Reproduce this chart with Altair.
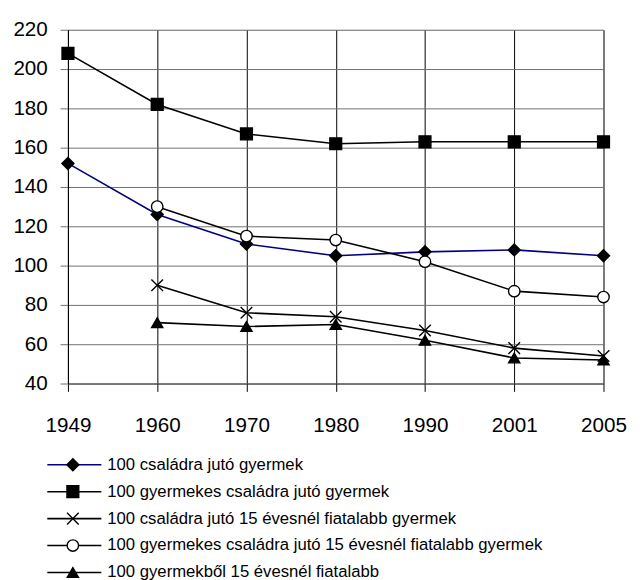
import altair as alt
import pandas as pd

years = ["1949", "1960", "1970", "1980", "1990", "2001", "2005"]
names = [
    "100 családra jutó gyermek",
    "100 gyermekes családra jutó gyermek",
    "100 családra jutó 15 évesnél fiatalabb gyermek",
    "100 gyermekes családra jutó 15 évesnél fiatalabb gyermek",
    "100 gyermekből 15 évesnél fiatalabb",
]
s1 = [152, 126, 111, 105, 107, 108, 105]
s2 = [208, 182, 167, 162, 163, 163, 163]
s3 = [None, 90, 76, 74, 67, 58, 54]
s4 = [None, 130, 115, 113, 102, 87, 84]
s5 = [None, 71, 69, 70, 62, 53, 52]
series_values = [s1, s2, s3, s4, s5]

line_colors = ["#000080", "#000000", "#000000", "#000000", "#000000"]
shapes = ["diamond", "square", "M-1,-1L1,1M-1,1L1,-1", "circle", "triangle-up"]
fills = ["#000000", "#000000", "#000000", "#ffffff", "#000000"]
sizes = [150, 130, 110, 95, 130]

rows = []
for name, vals in zip(names, series_values):
    for yr, v in zip(years, vals):
        if v is not None:
            rows.append({"year": yr, "series": name, "value": v})
df = pd.DataFrame(rows)
legend_df = pd.DataFrame({"series": names})

FONT = "Liberation Sans"

x_enc = alt.X(
    "year:O",
    sort=years,
    scale=alt.Scale(padding=0),
    axis=alt.Axis(
        title=None, labelAngle=0, grid=True, gridColor="#000000", gridWidth=1,
        tickSize=8, tickColor="#000000", labelFontSize=21, labelPadding=24,
        domainColor="#404040", labelColor="#000000", labelFont=FONT,
        labelFlush=False, labelOverlap=False,
    ),
)
y_enc = alt.Y(
    "value:Q",
    scale=alt.Scale(domain=[40, 220], nice=False, zero=False),
    axis=alt.Axis(
        title=None, values=list(range(40, 221, 20)), grid=True,
        gridColor="#707070", gridWidth=1, tickSize=8, tickColor="#707070",
        labelFontSize=21, labelPadding=13, domainColor="#000000",
        labelColor="#000000", labelFont=FONT,
        labelFlush=False, labelOverlap=False,
    ),
)

color_scale = alt.Scale(domain=names, range=line_colors)
shape_scale = alt.Scale(domain=names, range=shapes)
fill_scale = alt.Scale(domain=names, range=fills)
size_scale = alt.Scale(domain=names, range=sizes)

lines = alt.Chart(df).mark_line(strokeWidth=1.6).encode(
    x=x_enc, y=y_enc,
    color=alt.Color("series:N", scale=color_scale, legend=None),
    detail="series:N",
)
points = alt.Chart(df).mark_point(opacity=1, strokeWidth=1.4, stroke="#000000").encode(
    x=x_enc,
    y=y_enc,
    shape=alt.Shape("series:N", scale=shape_scale, legend=None),
    fill=alt.Fill("series:N", scale=fill_scale, legend=None),
    size=alt.Size("series:N", scale=size_scale, legend=None),
)
main = alt.layer(lines, points).properties(width=545, height=360)

ly = alt.Y("series:N", sort=names, axis=None, scale=alt.Scale(type="point", padding=0.5))
leg_rule = alt.Chart(legend_df).mark_rule(strokeWidth=1.6).encode(
    x=alt.value(-21), x2=alt.value(34), y=ly,
    color=alt.Color("series:N", scale=color_scale, legend=None),
)
leg_pt = alt.Chart(legend_df).mark_point(opacity=1, strokeWidth=1.4, stroke="#000000").encode(
    x=alt.value(5), y=ly,
    shape=alt.Shape("series:N", scale=shape_scale, legend=None),
    fill=alt.Fill("series:N", scale=fill_scale, legend=None),
    size=alt.Size("series:N", scale=size_scale, legend=None),
)
leg_txt = alt.Chart(legend_df).mark_text(align="left", baseline="middle", fontSize=17, font=FONT, color="#000000").encode(
    x=alt.value(40), y=ly, text="series:N",
)
legend = alt.layer(leg_rule, leg_pt, leg_txt).properties(
    width=545, height=137, view=alt.ViewBackground(stroke="transparent")
)

chart = alt.vconcat(main, legend, spacing=14).properties(
    padding={"left": 4, "top": 5, "right": 5, "bottom": 0}
).configure_view(stroke="#808080", strokeWidth=1.5).configure(font=FONT)

chart.save("out.html", embed_options={"renderer": "svg", "actions": False})
